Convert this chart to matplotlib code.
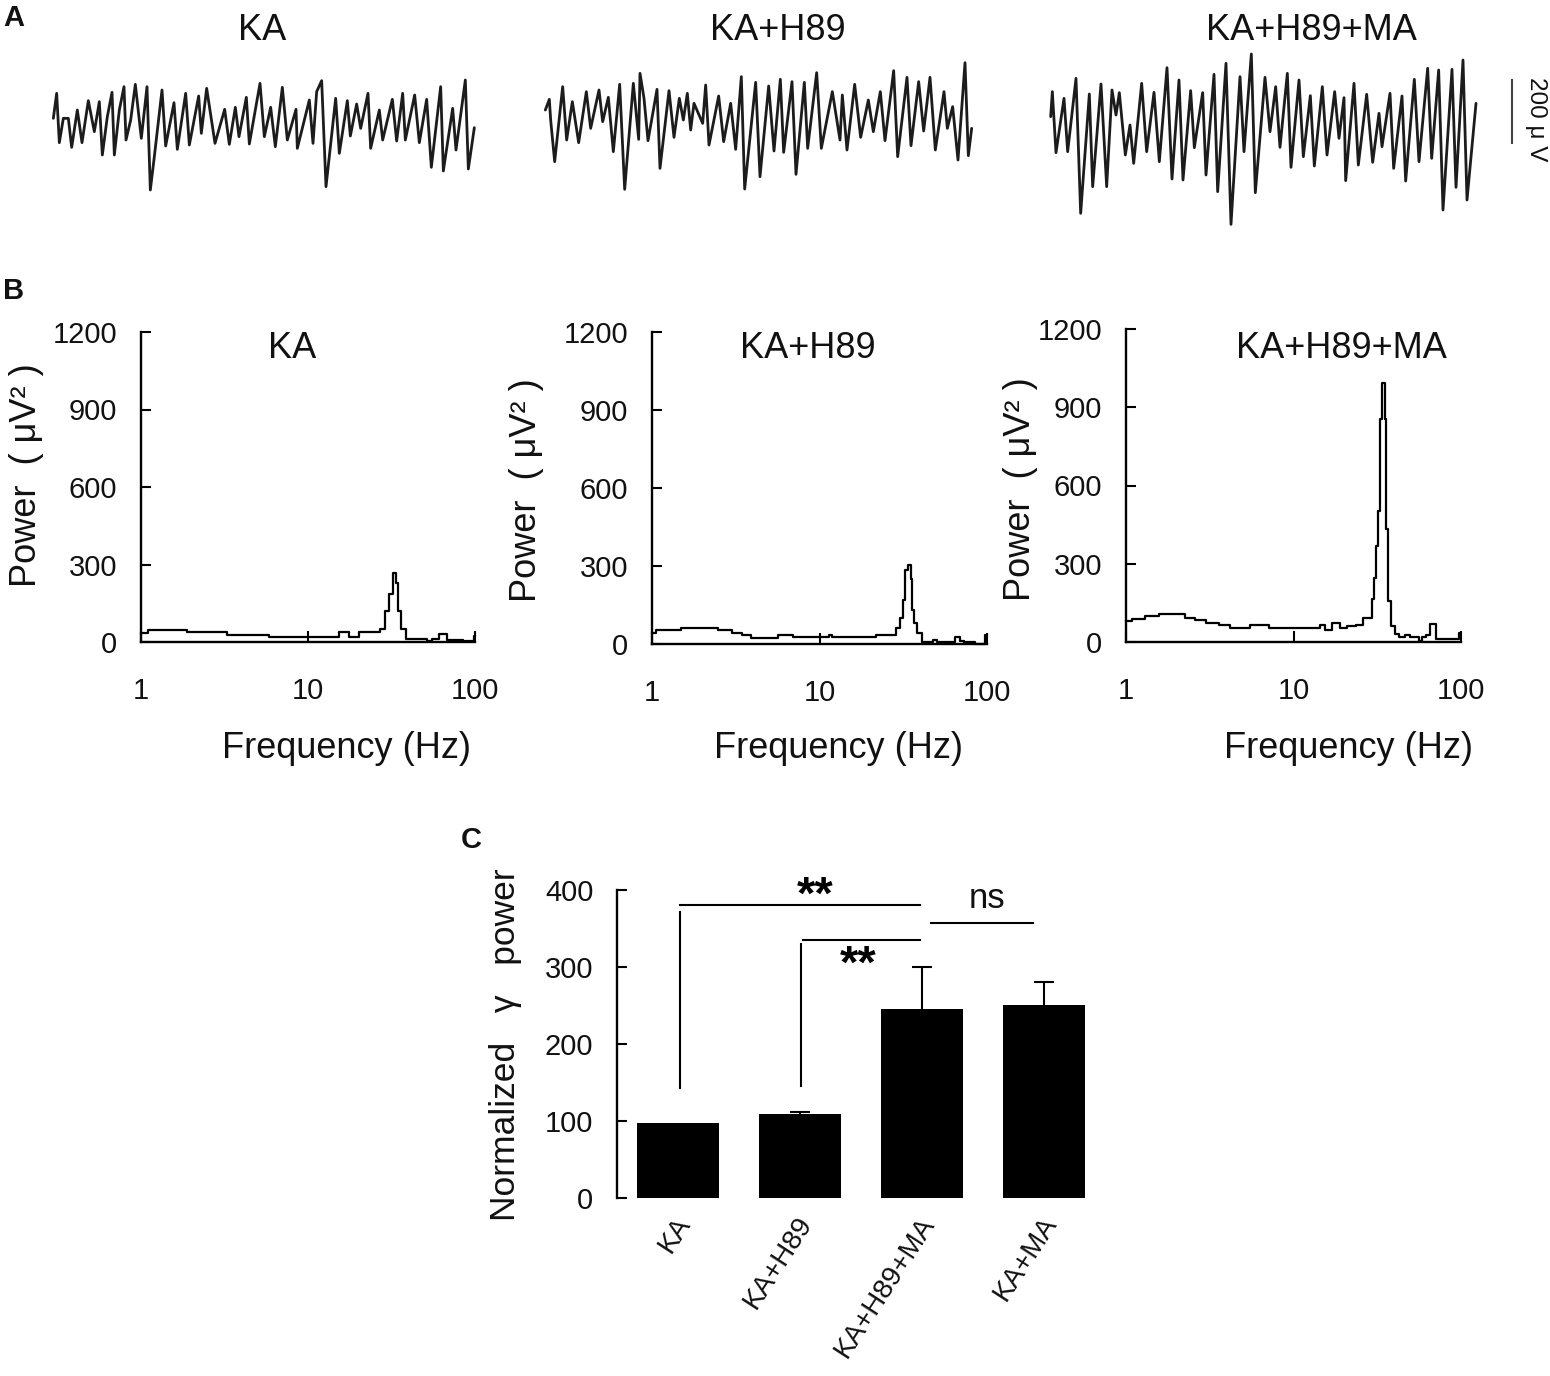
import matplotlib
matplotlib.use('Agg')
import matplotlib.pyplot as plt
from matplotlib.transforms import ScaledTranslation

plt.rcParams['font.family'] = ['Liberation Sans', 'DejaVu Sans']
W, H = 1550, 1376

# Panel A traces (position along the sweep, pen height with larger = lower)
trace_ka_t = [160,170,178,190,205,215,232,246,265,283,298,307,322,336,343,358,372,378,392,406,424,441,451,463,486,497,522,532,557,568,596,604,620,645,674,688,706,717,739,748,780,793,812,826,847,862,888,892,928,939,950,965,978,1007,1018,1042,1051,1070,1082,1104,1112,1138,1148,1177,1190,1208,1216,1244,1258,1280,1294,1322,1330,1358,1368,1396,1405,1423]
trace_ka_v = [175,100,248,175,175,262,150,248,122,215,125,285,170,97,285,150,80,240,180,73,235,80,390,290,90,258,128,268,100,255,108,220,85,250,148,253,142,230,112,252,70,230,142,260,82,240,148,265,120,250,95,62,380,115,280,122,228,132,205,100,265,150,240,118,243,100,240,105,248,118,322,80,333,145,270,60,327,203]
trace_h89_t = [76,88,92,104,128,140,157,176,199,212,237,248,265,280,299,314,340,356,360,372,384,411,420,447,462,478,490,502,512,522,548,557,567,596,611,632,647,664,674,707,720,746,762,781,791,816,828,853,863,890,904,937,960,967,981,1004,1022,1045,1060,1081,1095,1121,1133,1161,1173,1196,1211,1230,1246,1272,1282,1298,1314,1335,1345,1355]
trace_h89_v = [180,148,210,335,110,270,155,278,125,235,120,215,142,305,103,418,100,268,70,145,272,118,355,122,262,145,210,130,240,160,220,105,285,138,275,160,298,80,417,97,380,108,303,88,307,95,373,97,295,68,295,125,270,135,300,103,262,150,245,125,272,62,320,82,287,95,243,82,300,125,235,170,330,38,317,235]
trace_ma_t = [62,67,78,102,113,138,152,178,188,213,230,246,258,268,286,300,311,335,350,372,388,411,426,447,459,482,493,518,528,552,563,588,603,630,642,664,676,705,720,737,750,772,783,807,820,841,853,877,891,914,927,942,947,972,985,1010,1028,1047,1056,1080,1091,1116,1127,1153,1167,1193,1205,1226,1239,1266,1278,1299,1311,1338]
trace_ma_v = [230,155,338,175,335,115,520,162,440,132,440,150,225,158,345,255,370,130,335,157,365,83,417,120,420,152,323,158,405,103,455,70,553,110,335,42,458,112,275,140,322,100,382,120,350,167,378,140,345,155,295,173,422,130,375,163,367,220,320,160,385,168,423,118,365,85,355,90,510,88,442,60,480,190]
trace_labels = ['KA', 'KA+H89', 'KA+H89+MA']

# Panel B spectra
freq_ka = [1,1.19,2.59,3.92,7.8,14.9,15.9,19.1,21.4,25.8,28.3,29.6,31.7,32.9,34,35.2,37.2,39.8,50,52.5,57.5,64.6,70.8,98,100]
power_ka = [36,48,39,28,19,19,39,18,37,37,52,120,185,268,230,120,49,13,13,4,13,30,6,4,25]
freq_h89 = [1,1.12,1.47,1.52,2.43,2.52,2.92,3.06,3.38,3.48,3.85,3.94,5.55,5.75,6.82,7.05,11,11.7,12.1,21.4,22.1,27.6,29.6,31,31.9,33.1,34.4,35.5,35.8,37.2,38.9,42.7,46.8,49,51.3,61.5,66.5,70.6,75.6,95,99.5]
power_h89 = [41,54,54,63,63,54,54,44,41,33,33,24,24,36,36,26,26,36,26,26,36,36,61,100,170,285,305,250,132,81,42,8,8,14,8,8,28,13,8,1,36]
freq_ma = [1,1.18,1.42,1.71,2.1,2.41,2.77,3.25,3.9,4.47,5.37,5.63,6.92,7.3,14.1,14.7,16,18.1,19.8,21.7,25.5,26.7,29.3,29.7,30.7,31.7,32.5,33.3,34.5,35.7,36,37,39.1,41.3,44.2,48.5,50.7,54.3,57.4,59.6,63.8,66.8,69.3,73.2,96.4,98.6]
power_ma = [80,90,98,109,109,93,83,73,65,55,55,64,64,55,55,66,46,72,54,63,65,91,91,164,247,368,502,854,994,854,432,157,61,29,19,27,20,19,4,19,27,68,68,13,10,36]
power_ticks = [0, 300, 600, 900, 1200]
freq_ticks = [1, 10, 100]

# Panel C bars
groups = ['KA', 'KA+H89', 'KA+H89+MA', 'KA+MA']
gamma_power = [98, 109, 245, 251]
gamma_err = [0, 3, 55, 30]
gamma_ticks = [0, 100, 200, 300, 400]


def ax_px(l, t, r, b):
    return fig.add_axes([l / W, 1 - b / H, (r - l) / W, (b - t) / H])


def ftext(x, y, s, **kw):
    kw.setdefault('ha', 'center')
    kw.setdefault('va', 'center')
    kw.setdefault('color', '#111111')
    fig.text(x / W, 1 - y / H, s, **kw)


fig = plt.figure(figsize=(W / 100, H / 100), dpi=100, facecolor='white')

# Panel letters
ftext(14, 18, 'A', fontsize=21, fontweight='bold')
ftext(14, 291, 'B', fontsize=21, fontweight='bold')
ftext(471, 840, 'C', fontsize=21, fontweight='bold')

# Panel A
boxes = [((0, 60, 500, 210), 1500, 450), ((520, 50, 1020, 210), 1500, 480), ((1030, 40, 1550, 230), 1560, 570)]
traces = [(trace_ka_t, trace_ka_v), (trace_h89_t, trace_h89_v), (trace_ma_t, trace_ma_v)]
for (box, xm, ym), (t, v) in zip(boxes, traces):
    ax = ax_px(*box)
    ax.set_xlim(0, xm)
    ax.set_ylim(ym, 0)
    ax.axis('off')
    ax.plot(t, v, color='#1c1c1c', lw=2.0, solid_joinstyle='round', solid_capstyle='round')
    if xm == 1560:
        ax.plot([1445, 1445], [120, 308], color='#444444', lw=1.5)
for x, s in zip([262, 778, 1311], trace_labels):
    ftext(x, 30, s, fontsize=26)
ftext(1536, 119, '200 μ V', fontsize=17.5, rotation=270)

# Panel B
panels = [((141, 332, 475, 642), freq_ka, power_ka, 292, 27, 475, 346),
          ((652, 332, 987, 644), freq_h89, power_h89, 808, 526, 490, 839),
          ((1126, 329, 1461, 642), freq_ma, power_ma, 1341, 1020, 489, 1349)]
for (box, f, p, tx, yx, yy, xx), s in zip(panels, trace_labels):
    ax = ax_px(*box)
    ax.set_xscale('log')
    ax.set_xlim(1, 100)
    ax.set_ylim(0, 1200)
    ax.plot(f, p, color='black', lw=1.6, clip_on=False, drawstyle='steps-mid')
    for k in ('top', 'right'):
        ax.spines[k].set_visible(False)
    for k in ('left', 'bottom'):
        ax.spines[k].set_linewidth(1.7)
    ax.set_yticks(power_ticks)
    ax.set_xticks(freq_ticks)
    ax.set_xticklabels([str(v) for v in freq_ticks])
    ax.minorticks_off()
    ax.tick_params(axis='y', direction='in', length=7, width=1.5, pad=17, labelsize=21, labelcolor='#111111')
    ax.tick_params(axis='x', direction='in', length=8, width=1.5, pad=25, labelsize=21, labelcolor='#111111')
    ftext(tx, 348, s, fontsize=26)
    ftext(yx, yy, 'Power  ( μV² )', fontsize=26, rotation=90)
    ftext(xx, 749, 'Frequency (Hz)', fontsize=26)

# Panel C
ax = ax_px(617, 890, 1087, 1198)
ax.set_xlim(-0.5, 3.35)
ax.set_ylim(0, 400)
pos = list(range(len(groups)))
ax.bar(pos, gamma_power, width=0.67, color='black')
tops = [v + e for v, e in zip(gamma_power, gamma_err)]
ax.vlines(pos, gamma_power, tops, color='black', lw=1.5)
ax.plot([p for p, e in zip(pos, gamma_err) if e], [t for t, e in zip(tops, gamma_err) if e],
        ls='none', marker='_', ms=14, mew=1.5, color='black')
for k in ('top', 'right', 'bottom'):
    ax.spines[k].set_visible(False)
ax.spines['left'].set_linewidth(1.7)
ax.set_yticks(gamma_ticks)
ax.tick_params(axis='y', direction='in', length=7, width=1.5, pad=17, labelsize=21, labelcolor='#111111')
ax.set_xticks(pos)
ax.set_xticklabels(groups, rotation=57, ha='right', va='center', rotation_mode='anchor', fontsize=20, color='#111111')
ax.tick_params(axis='x', length=0, pad=15)
for lab in ax.get_xticklabels():
    lab.set_transform(lab.get_transform() + ScaledTranslation(7 / 100, 0, fig.dpi_scale_trans))
# significance brackets
for xs, ys in [([0.02, 1.98], [380, 380]), ([0.02, 0.02], [372, 143]),
               ([1.02, 1.98], [335, 335]), ([1.01, 1.01], [330, 146]),
               ([2.07, 2.91], [357, 357])]:
    ax.plot(xs, ys, color='black', lw=1.5, clip_on=False)
ftext(815, 897, '**', fontsize=34, fontweight='bold', color='black')
ftext(858, 966, '**', fontsize=34, fontweight='bold', color='black')
ftext(987, 899, 'ns', fontsize=25)
ftext(505, 1045, 'Normalized   γ   power', fontsize=25.5, rotation=90)

fig.savefig('out.png', dpi=100, facecolor='white')
